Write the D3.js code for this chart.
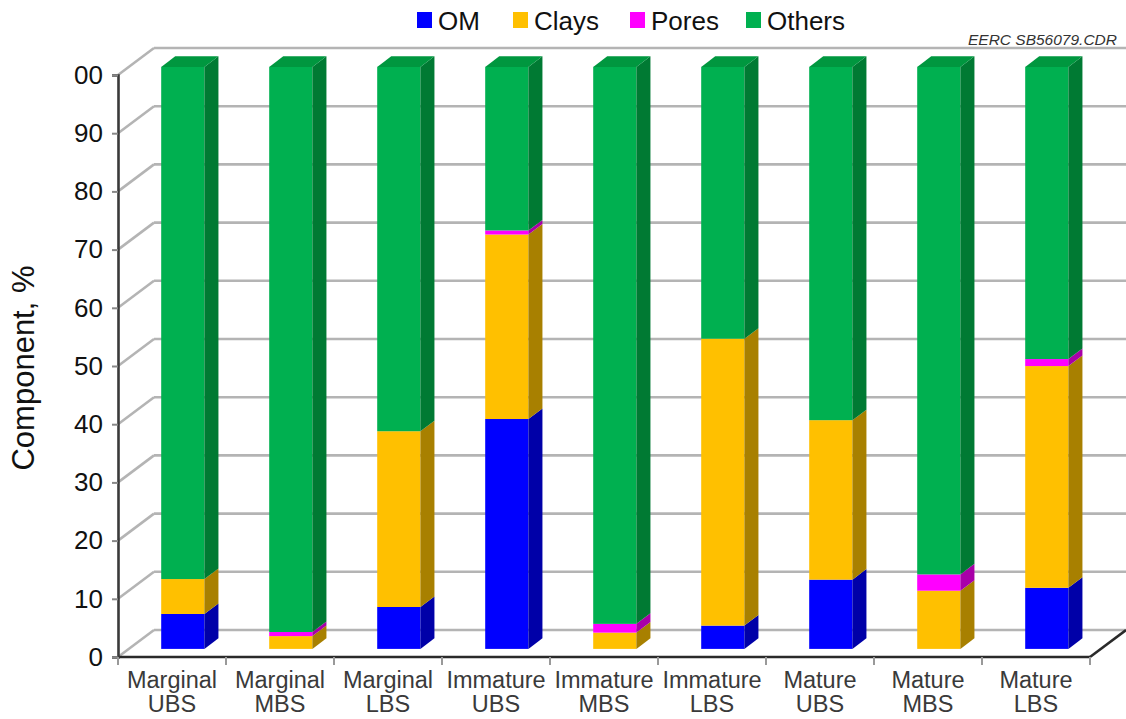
<!DOCTYPE html>
<html>
<head>
<meta charset="utf-8">
<script src="https://cdn.jsdelivr.net/npm/d3@7"></script>
<style>
  html, body { margin: 0; padding: 0; background: #fff; }
  svg { display: block; font-family: "Liberation Sans", Arial, sans-serif; }
</style>
</head>
<body>
<svg id="chart" width="1126" height="719"></svg>
<script>
// Sample groups (maturity + shale member)
const categories = [
  "Marginal UBS", "Marginal MBS", "Marginal LBS",
  "Immature UBS", "Immature MBS", "Immature LBS",
  "Mature UBS", "Mature MBS", "Mature LBS"
];
// Component shares, %
const om     = [6.0, 0.0, 7.2, 39.5, 0.0, 4.0, 11.9, 0.0, 10.5];
const clays  = [6.0, 2.2, 30.2, 31.7, 2.8, 49.3, 27.4, 10.0, 38.1];
const pores  = [0.0, 0.7, 0.0, 0.7, 1.5, 0.0, 0.0, 2.8, 1.2];
const others = [88.0, 97.1, 62.6, 28.1, 95.7, 46.7, 60.7, 87.2, 50.2];
const seriesNames = ["OM", "Clays", "Pores", "Others"];
const yTicks = [0, 10, 20, 30, 40, 50, 60, 70, 80, 90, 100];
const yTickLabels = ["0", "10", "20", "30", "40", "50", "60", "70", "80", "90", "00"];

const palette = {
  OM:     { front: "#0000ff", side: "#0000a8", top: "#0000d0" },
  Clays:  { front: "#ffc000", side: "#a88000", top: "#d8a400" },
  Pores:  { front: "#ff00ff", side: "#a800a8", top: "#d000d0" },
  Others: { front: "#00b050", side: "#007a33", top: "#00973f" }
};

const rows = categories.map((c, i) => ({
  cat: c, OM: om[i], Clays: clays[i], Pores: pores[i], Others: others[i]
}));
const stacked = d3.stack().keys(seriesNames)(rows);

const svg = d3.select("#chart");
const plotLeft = 118, plotRight = 1090, plotBottom = 657, plotTop = 75;
const depthX = 36, depthY = -27;       // wall depth offset
const barPlane = 0.3, barDepth = 0.39;  // bar position / thickness within depth

const x = d3.scaleBand().domain(categories).range([plotLeft, plotRight]).padding(0);
const y = d3.scaleLinear().domain([0, 100]).range([plotBottom, plotTop]);

// Back wall grid lines and the diagonals running to the front axis
const grid = svg.append("g").attr("stroke", "#b4b4b4").attr("stroke-width", 2.6).attr("fill", "none");
yTicks.forEach(t => {
  grid.append("line")
    .attr("x1", plotLeft + depthX).attr("x2", plotRight + depthX + 2)
    .attr("y1", y(t) + depthY).attr("y2", y(t) + depthY);
  grid.append("line")
    .attr("x1", plotLeft).attr("y1", y(t))
    .attr("x2", plotLeft + depthX).attr("y2", y(t) + depthY);
});

// Stacked 3D bars
const bw = x.bandwidth() * 0.4;
const offX = depthX * barPlane, offY = depthY * barPlane;
const sX = depthX * barDepth, sY = depthY * barDepth;
const bars = svg.append("g");
stacked.forEach((layer, li) => {
  const col = palette[layer.key];
  layer.forEach((d, i) => {
    if (d[1] - d[0] <= 0) return;
    const x0 = x(d.data.cat) + x.bandwidth() / 2 - bw / 2 + offX;
    const x1 = x0 + bw;
    const yb = y(d[0]) + offY, yt = y(d[1]) + offY;
    bars.append("rect")
      .attr("x", x0).attr("y", yt).attr("width", bw).attr("height", yb - yt)
      .attr("fill", col.front);
    bars.append("path")
      .attr("d", `M${x1},${yb}L${x1 + sX},${yb + sY}L${x1 + sX},${yt + sY}L${x1},${yt}Z`)
      .attr("fill", col.side);
    if (li === seriesNames.length - 1) {
      bars.append("path")
        .attr("d", `M${x0},${yt}L${x0 + sX},${yt + sY}L${x1 + sX},${yt + sY}L${x1},${yt}Z`)
        .attr("fill", col.top);
    }
  });
});

// Floor outline
const floor = svg.append("g").attr("fill", "none").attr("stroke", "#2a2a2a").attr("stroke-width", 2.6);
floor.append("line").attr("x1", plotLeft).attr("x2", plotRight).attr("y1", plotBottom).attr("y2", plotBottom);
floor.append("line").attr("x1", plotRight).attr("y1", plotBottom)
  .attr("x2", plotRight + depthX).attr("y2", plotBottom + depthY);

// Front y axis
const yAxis = svg.append("g").attr("transform", `translate(${plotLeft},0)`)
  .call(d3.axisLeft(y).tickValues(yTicks).tickSize(6).tickPadding(9)
    .tickFormat((d, i) => yTickLabels[i]));
yAxis.select(".domain").attr("stroke", "#3a3a3a").attr("stroke-width", 2.6);
yAxis.selectAll(".tick line").attr("stroke", "#888").attr("stroke-width", 2);
yAxis.selectAll(".tick text").attr("font-size", 26).attr("fill", "#111")
  .attr("font-family", "Liberation Sans, Arial, sans-serif");

// Category separators and two-line labels
const xAxis = svg.append("g");
d3.range(categories.length + 1).forEach(k => {
  const px = plotLeft + k * x.bandwidth();
  xAxis.append("line").attr("x1", px).attr("x2", px)
    .attr("y1", plotBottom).attr("y2", plotBottom + 8)
    .attr("stroke", "#999").attr("stroke-width", 2);
});
categories.forEach(c => {
  const parts = c.split(" ");
  const t = xAxis.append("text")
    .attr("x", x(c) + x.bandwidth() / 2).attr("y", 688)
    .attr("text-anchor", "middle").attr("font-size", 23.5).attr("fill", "#3a3a3a");
  parts.forEach((p, j) => {
    t.append("tspan").attr("x", x(c) + x.bandwidth() / 2).attr("dy", j === 0 ? 0 : 24).text(p);
  });
});

// Axis title
svg.append("text")
  .attr("transform", "translate(26,368) rotate(-90)")
  .attr("text-anchor", "middle").attr("dominant-baseline", "middle")
  .attr("font-size", 31).attr("fill", "#111")
  .text("Component, %");

// Legend
const legendX = [417, 513, 630, 746];
const legend = svg.append("g");
seriesNames.forEach((s, i) => {
  legend.append("rect").attr("x", legendX[i]).attr("y", 12)
    .attr("width", 15).attr("height", 16).attr("fill", palette[s].front);
  legend.append("text").attr("x", legendX[i] + 21).attr("y", 30)
    .attr("font-size", 26).attr("fill", "#111").text(s);
});

// File tag
svg.append("text")
  .attr("x", 1117).attr("y", 45).attr("text-anchor", "end")
  .attr("font-size", 15.5).attr("font-style", "italic").attr("fill", "#333")
  .text("EERC SB56079.CDR");
</script>
</body>
</html>
